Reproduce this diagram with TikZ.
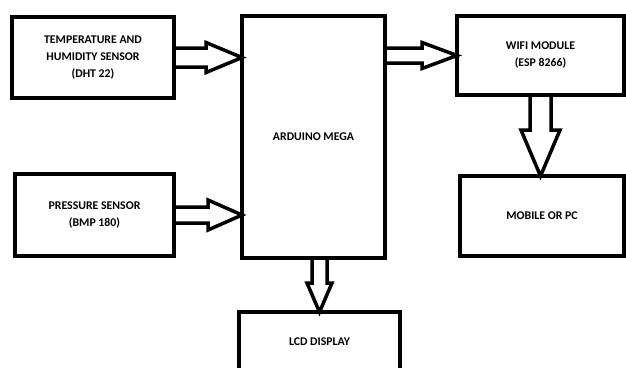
\documentclass[tikz,border=0pt]{standalone}
\usepackage{fontspec}
\setmainfont{Carlito}
\usepackage{tikz}
\usetikzlibrary{calc}

% hollow block arrows: from, to, shaft half width, head half width, head length
\newcommand{\blockright}[5]{%
  \draw[arrowline] let \p1=(#1), \p2=(#2) in
    (\x1,\y1+#3pt) -- (\x2-#5pt,\y1+#3pt) -- (\x2-#5pt,\y1+#4pt) -- (\x2,\y1)
    -- (\x2-#5pt,\y1-#4pt) -- (\x2-#5pt,\y1-#3pt) -- (\x1,\y1-#3pt);}
\newcommand{\blockdown}[5]{%
  \draw[arrowline] let \p1=(#1), \p2=(#2) in
    (\x1-#3pt,\y1) -- (\x1-#3pt,\y2+#5pt) -- (\x1-#4pt,\y2+#5pt) -- (\x1,\y2)
    -- (\x1+#4pt,\y2+#5pt) -- (\x1+#3pt,\y2+#5pt) -- (\x1+#3pt,\y1);}

\begin{document}
\begin{tikzpicture}[x=1pt, y=-1pt,
    box/.style = {draw, line width=3.5pt, inner sep=0pt, outer sep=0pt, align=center,
                  font=\fontsize{11.8}{17}\selectfont\bfseries},
    arrowline/.style = {draw, line width=3.5pt, line join=miter}]
        \useasboundingbox (0,0) rectangle (626,367);
        \clip (0,0) rectangle (626,367);
        \node[box, minimum width=162pt, minimum height=81pt]  (temp)     at (93,57.5)   {TEMPERATURE AND\\HUMIDITY SENSOR\\(DHT 22)};
        \node[box, minimum width=159pt, minimum height=82pt]  (pressure) at (94.5,215)  {PRESSURE SENSOR\\(BMP 180)};
        \node[box, minimum width=143pt, minimum height=242pt] (arduino)  at (313.5,137) {ARDUINO MEGA};
        \node[box, minimum width=167pt, minimum height=79pt]  (wifi)     at (540.5,55.5) {WIFI MODULE\\(ESP 8266)};
        \node[box, minimum width=164pt, minimum height=80pt]  (mobile)   at (542,216)   {MOBILE OR PC};
        \node[box, minimum width=161pt, minimum height=60pt]  (lcd)      at (319.5,342) {LCD DISPLAY};
        \blockright{temp.east}{arduino.west |- temp.east}{9.5}{15}{36}
        \blockright{pressure.east}{arduino.west |- pressure.east}{8}{15}{34}
        \blockright{arduino.east |- wifi.west}{wifi.west}{7.5}{13}{35}
        \blockdown{wifi.south}{wifi.south |- mobile.north}{10.5}{19.5}{46}
        \blockdown{arduino.south -| lcd.north}{lcd.north}{7.5}{12.5}{29}
    \end{tikzpicture}
\end{document}
